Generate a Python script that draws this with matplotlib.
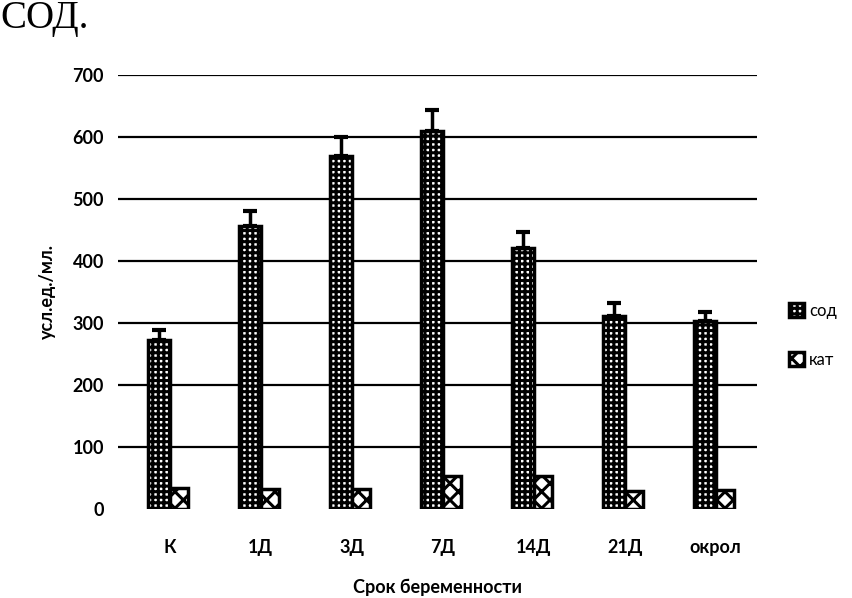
import numpy as np
import matplotlib.pyplot as plt

plt.rcParams['font.family'] = ['Lato', 'DejaVu Sans']
plt.rcParams['hatch.linewidth'] = 2.2

# data
categories = ['К', '1Д', '3Д', '7Д', '14Д', '21Д', 'окрол']
sod = [272, 456, 569, 610, 421, 311, 303]
sod_err = [17, 25, 31, 34, 26, 21, 15]
kat = [34, 32, 32, 53, 53, 29, 30]

x = np.arange(len(categories))
w_sod = 0.24
w_kat = 0.20

fig = plt.figure(figsize=(8.52, 5.98), dpi=100)
ax = fig.add_axes([0.1385, 0.149, 0.7495, 0.7256])

for yv in range(100, 800, 100):
    ax.axhline(yv, color='black', lw=1.6, zorder=0)

ax.bar(x - w_sod / 2, sod, width=w_sod, color='white', edgecolor='black',
       hatch='+++', lw=2.5, label='сод', zorder=3)
ax.errorbar(x - w_sod / 2, sod, yerr=[np.zeros(len(sod)), sod_err], fmt='none',
            ecolor='black', elinewidth=2.5, capsize=5, capthick=3, zorder=4)
ax.bar(x + w_kat / 2, kat, width=w_kat, color='white', edgecolor='black',
       hatch='xx', lw=2.5, label='кат', zorder=3)

ax.set_xlim(-0.57, 6.45)
ax.set_ylim(0, 700)
ax.set_yticks(range(0, 800, 100))
ax.set_xticks(x)
ax.set_xticklabels(categories)
ax.tick_params(length=0, labelsize=13, pad=10)
for lab in ax.get_xticklabels() + ax.get_yticklabels():
    lab.set_fontweight('bold')
ax.tick_params(axis='x', pad=22)
for s in ax.spines.values():
    s.set_visible(False)

ax.set_ylabel('усл.ед./мл.', fontsize=13, fontweight='bold', labelpad=12)
ax.set_xlabel('Срок беременности', fontsize=13, fontweight='bold', labelpad=16)

ax.legend(loc='center left', bbox_to_anchor=(1.04, 0.4), frameon=False,
          fontsize=12, labelspacing=2.0, handlelength=0.9, handleheight=0.9,
          handletextpad=0.3, borderaxespad=0)

fig.text(0.0, 1.0, 'СОД.', fontsize=28, family='Liberation Serif',
         va='top', ha='left')

fig.savefig('out.png', dpi=100)
